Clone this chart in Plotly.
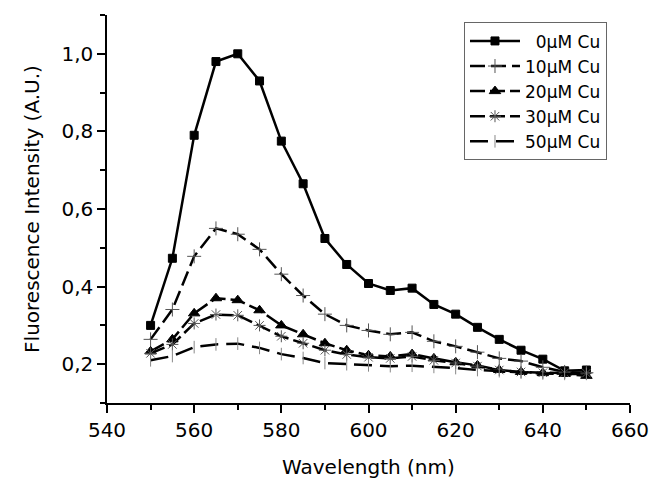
import plotly.graph_objects as go

wavelength = [550, 555, 560, 565, 570, 575, 580, 585, 590, 595, 600,
              605, 610, 615, 620, 625, 630, 635, 640, 645, 650]

cu_0 = [0.300, 0.473, 0.790, 0.980, 1.000, 0.930, 0.775, 0.665, 0.524, 0.457, 0.408,
        0.390, 0.396, 0.354, 0.329, 0.295, 0.264, 0.236, 0.213, 0.183, 0.185]
cu_10 = [0.264, 0.341, 0.478, 0.550, 0.535, 0.496, 0.432, 0.377, 0.329, 0.300, 0.287,
         0.277, 0.282, 0.259, 0.246, 0.231, 0.215, 0.208, 0.192, 0.180, 0.178]
cu_20 = [0.233, 0.264, 0.331, 0.370, 0.365, 0.339, 0.300, 0.277, 0.254, 0.236, 0.223,
         0.220, 0.226, 0.215, 0.205, 0.197, 0.185, 0.180, 0.177, 0.175, 0.170]
cu_30 = [0.228, 0.251, 0.305, 0.328, 0.326, 0.300, 0.272, 0.254, 0.236, 0.225, 0.218,
         0.215, 0.220, 0.210, 0.203, 0.195, 0.185, 0.180, 0.178, 0.178, 0.177]
cu_50 = [0.210, 0.221, 0.244, 0.251, 0.253, 0.242, 0.226, 0.216, 0.203, 0.200, 0.197,
         0.195, 0.196, 0.193, 0.190, 0.185, 0.182, 0.178, 0.176, 0.175, 0.175]

names = ["\u00a0\u00a00\u03bcM Cu", "10\u03bcM Cu", "20\u03bcM Cu", "30\u03bcM Cu", "50\u03bcM Cu"]
series = [cu_0, cu_10, cu_20, cu_30, cu_50]
dashes = ["solid", "15px,6px", "15px,5px", "15px,5px", "18px,8px"]
symbols = ["square", "cross-thin-open", "triangle-up", "asterisk-open", "line-ns-open"]
mcolors = ["black", "#555555", "black", "#555555", "#888888"]
msizes = [8, 10, 10, 10, 9]

fig = go.Figure()
for i, (n, s, d, sym, mc, ms) in enumerate(zip(names, series, dashes, symbols, mcolors, msizes)):
    fig.add_trace(go.Scatter(
        x=wavelength, y=s, name=n, mode="lines+markers",
        line=dict(color="black", width=2.5, dash=d),
        marker=dict(symbol=sym, size=ms, color=mc, line=dict(color=mc, width=1)),
    ))

font_family = "DejaVu Sans, Verdana, sans-serif"
fig.update_layout(
    width=651, height=480,
    margin=dict(l=107, r=21, t=15, b=77),
    paper_bgcolor="white", plot_bgcolor="white",
    separators=", ",
    font=dict(family=font_family, size=20, color="black"),
    showlegend=True,
    legend=dict(
        x=0.6826, y=0.981, xanchor="left", yanchor="top",
        bordercolor="#666666", borderwidth=1, bgcolor="white",
        font=dict(size=17, family=font_family),
        itemwidth=50, tracegroupgap=0,
    ),
    xaxis=dict(
        range=[540, 660], tickvals=[540, 560, 580, 600, 620, 640, 660],
        tickfont=dict(size=20),
        ticks="outside", ticklen=8, tickwidth=1.5, tickcolor="black",
        minor=dict(tickvals=[550, 570, 590, 610, 630, 650], ticks="outside",
                   ticklen=5, tickwidth=1.5, tickcolor="black"),
        showline=True, linecolor="black", linewidth=1.5,
        showgrid=False, zeroline=False, automargin=False,
    ),
    yaxis=dict(
        range=[0.1, 1.1], tickvals=[0.2, 0.4, 0.6, 0.8, 1.0], tickformat=".1f",
        tickfont=dict(size=20),
        ticks="outside", ticklen=8, tickwidth=1.5, tickcolor="black",
        minor=dict(tickvals=[0.1, 0.3, 0.5, 0.7, 0.9, 1.1], ticks="outside",
                   ticklen=5, tickwidth=1.5, tickcolor="black"),
        showline=True, linecolor="black", linewidth=1.5,
        showgrid=False, zeroline=False, automargin=False,
        title=dict(text="Fluorescence Intensity (A.U.)", standoff=16, font=dict(size=20)),
    ),
    annotations=[dict(
        text="Wavelength (nm)", xref="paper", yref="paper",
        x=0.5, y=-0.166, xanchor="center", yanchor="middle",
        showarrow=False, font=dict(size=20, family=font_family, color="black"),
    )],
)

fig.write_html("out.html")
